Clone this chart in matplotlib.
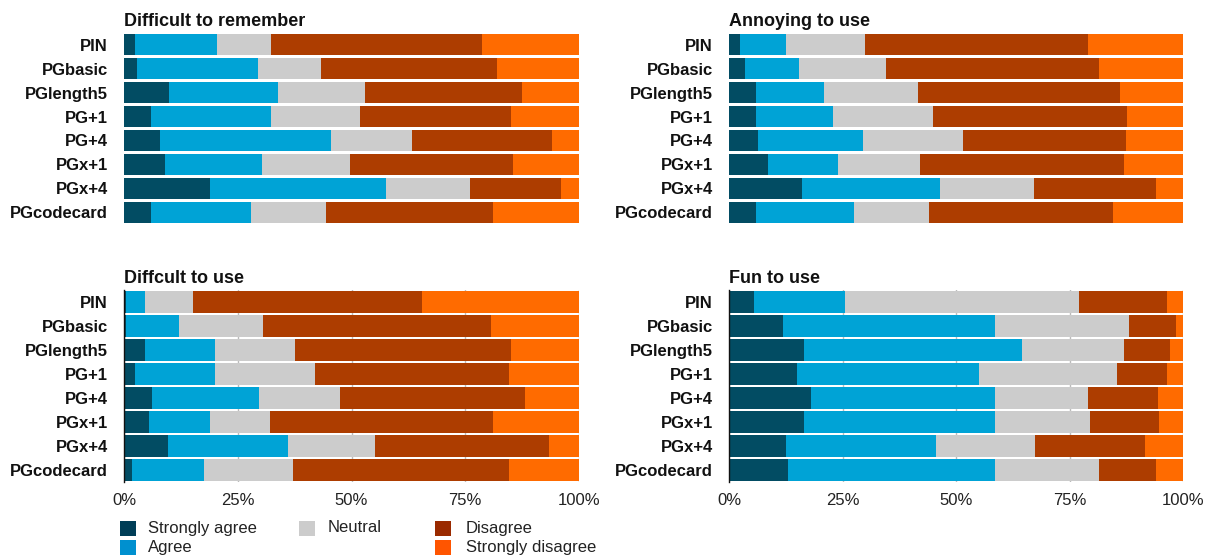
import matplotlib
matplotlib.use("Agg")
import matplotlib.pyplot as plt
from matplotlib.patches import Rectangle
import numpy as np

plt.rcParams['font.family'] = ['Liberation Sans', 'DejaVu Sans']

categories = ["PIN", "PGbasic", "PGlength5", "PG+1", "PG+4", "PGx+1", "PGx+4", "PGcodecard"]
levels = ["Strongly agree", "Agree", "Neutral", "Disagree", "Strongly disagree"]

# percentages per level (order follows categories)
remember_sa = [2.4, 2.9, 9.9, 5.9, 7.9, 9.0, 18.9, 5.9]
remember_a = [18.1, 26.6, 24.0, 26.5, 37.5, 21.4, 38.6, 22.1]
remember_n = [11.9, 13.8, 19.1, 19.5, 18.0, 19.2, 18.5, 16.5]
remember_d = [46.3, 38.7, 34.5, 33.1, 30.7, 35.9, 20.0, 36.5]
remember_sd = [21.3, 18.0, 12.5, 15.0, 5.9, 14.5, 4.0, 19.0]

annoying_sa = [2.4, 3.5, 6.0, 6.0, 6.4, 8.6, 16.1, 6.0]
annoying_a = [10.2, 11.9, 14.9, 16.9, 23.1, 15.4, 30.3, 21.5]
annoying_n = [17.3, 19.1, 20.7, 22.0, 22.0, 18.1, 20.7, 16.5]
annoying_d = [49.1, 47.0, 44.5, 42.7, 35.9, 44.8, 26.9, 40.5]
annoying_sd = [21.0, 18.5, 13.9, 12.4, 12.6, 13.1, 6.0, 15.5]

difficult_sa = [0.5, 0.5, 4.6, 2.5, 6.1, 5.6, 9.6, 1.7]
difficult_a = [4.1, 11.5, 15.5, 17.6, 23.5, 13.4, 26.4, 15.8]
difficult_n = [10.5, 18.5, 17.4, 21.8, 17.9, 13.1, 19.1, 19.6]
difficult_d = [50.4, 50.1, 47.5, 42.7, 40.6, 49.0, 38.3, 47.5]
difficult_sd = [34.5, 19.4, 15.0, 15.4, 11.9, 18.9, 6.6, 15.4]

fun_sa = [5.6, 12.0, 16.6, 15.0, 18.1, 16.6, 12.6, 13.1]
fun_a = [20.0, 46.6, 48.0, 40.1, 40.5, 42.0, 32.9, 45.5]
fun_n = [51.5, 29.5, 22.4, 30.4, 20.5, 21.0, 21.9, 22.9]
fun_d = [19.4, 10.4, 10.2, 11.0, 15.4, 15.1, 24.2, 12.6]
fun_sd = [3.5, 1.5, 2.8, 3.5, 5.5, 5.3, 8.4, 5.9]

titles = ["Difficult to remember", "Annoying to use", "Diffcult to use", "Fun to use"]
panels = [
    [remember_sa, remember_a, remember_n, remember_d, remember_sd],
    [annoying_sa, annoying_a, annoying_n, annoying_d, annoying_sd],
    [difficult_sa, difficult_a, difficult_n, difficult_d, difficult_sd],
    [fun_sa, fun_a, fun_n, fun_d, fun_sd],
]

bar_colors = ["#024c63", "#00a3d6", "#cccccc", "#ad3d00", "#ff6b00"]
legend_colors = ["#003e57", "#0090cf", "#cccccc", "#9a2a00", "#ff5500"]

W, H = 1209, 558
fig = plt.figure(figsize=(W / 100, H / 100), dpi=100)

def px_axes(x0, x1, ytop, ybot):
    return [x0 / W, 1 - ybot / H, (x1 - x0) / W, (ybot - ytop) / H]

rects = [
    px_axes(124, 579, 33, 224),
    px_axes(729, 1183, 33, 224),
    px_axes(124, 579, 290, 482),
    px_axes(729, 1183, 290, 482),
]

for i, (rect, title, data) in enumerate(zip(rects, titles, panels)):
    ax = fig.add_axes(rect)
    bottom_row = i >= 2
    y = np.arange(len(categories))
    left = np.zeros(len(categories))
    for vals, col, lab in zip(data, bar_colors, levels):
        vals = np.asarray(vals, dtype=float)
        ax.barh(y, vals, left=left, height=0.88, color=col, label=lab, zorder=2)
        left += vals
    ax.set_xlim(0, 100)
    ax.set_ylim(len(categories) - 0.5, -0.5)
    ax.set_yticks(y)
    ax.set_yticklabels(categories, fontsize=12, fontweight='bold', color='#111111')
    ax.tick_params(axis='y', length=0, pad=11.5)
    for s in ax.spines.values():
        s.set_visible(False)
    if bottom_row:
        ax.set_xticks([0, 25, 50, 75, 100])
        ax.set_xticklabels(["0%", "25%", "50%", "75%", "100%"], fontsize=12, color="#222222")
        ax.tick_params(axis='x', length=0, pad=8)
        ax.grid(axis='x', color='#bbbbbb', linewidth=1, zorder=0)
        ax.set_axisbelow(True)
        ax.spines['left'].set_visible(True)
        ax.spines['left'].set_color('#111111')
        ax.spines['left'].set_linewidth(1.0)
        ax.spines['left'].set_zorder(3)
    else:
        ax.set_xticks([])
    ax.text(0, 1.0 + 7 / (rect[3] * H), title, transform=ax.transAxes, fontsize=13,
            fontweight='bold', ha='left', va='baseline', color='#111111')

# legend drawn manually, laid out in figure pixels
legend_boxes_x = [120, 120, 299, 435, 435]
legend_text_x = [148, 148, 328, 466, 466]
rows = [0, 1, 0, 0, 1]
row_centers = [528, 547.5]
for lab, col, bx, tx, r in zip(levels, legend_colors, legend_boxes_x, legend_text_x, rows):
    cy = row_centers[r]
    fig.add_artist(Rectangle((bx / W, 1 - (cy + 7.5) / H), 16 / W, 15 / H,
                             transform=fig.transFigure, facecolor=col, edgecolor='none'))
    fig.text(tx / W, 1 - cy / H, lab, fontsize=12, color='#222222', ha='left', va='center')

fig.savefig("out.png", dpi=100)
